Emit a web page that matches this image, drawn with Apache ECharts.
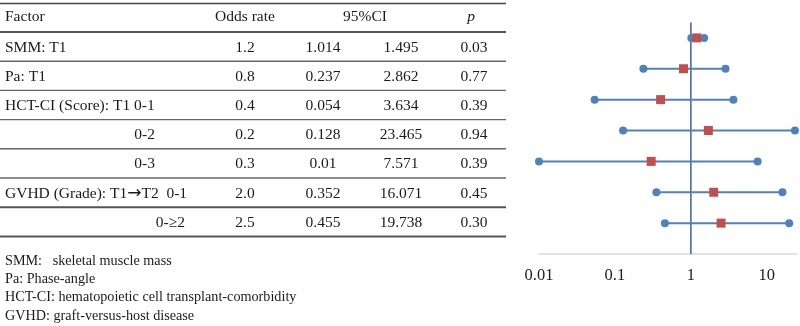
<!DOCTYPE html>
<html>
<head>
<meta charset="utf-8">
<script src="https://cdn.jsdelivr.net/npm/echarts@6/dist/echarts.min.js"></script>
<style>
  html, body { margin: 0; padding: 0; background: #fff; }
  #chart { width: 800px; height: 326px; }
</style>
</head>
<body>
<div id="chart"></div>
<script>
// Forest plot with the results table on the left
const factors = ['SMM: T1', 'Pa: T1', 'HCT-CI (Score): T1 0-1', '0-2', '0-3', 'GVHD (Grade): T1\u2192T2  0-1', '0-\u22652'];
const oddsText = ['1.2', '0.8', '0.4', '0.2', '0.3', '2.0', '2.5'];
const ciLow = [1.014, 0.237, 0.054, 0.128, 0.01, 0.352, 0.455];
const ciHigh = [1.495, 2.862, 3.634, 23.465, 7.571, 16.071, 19.738];
const pValues = ['0.03', '0.77', '0.39', '0.94', '0.39', '0.45', '0.30'];
// marker positions as drawn in the plot (0-2 marker sits near 1.7 in the figure)
const oddsPlotted = [1.2, 0.8, 0.4, 1.7, 0.3, 2.0, 2.5];
const headers = ['Factor', 'Odds rate', '95%CI', 'p'];
const footnotes = [
  'SMM:   skeletal muscle mass',
  'Pa: Phase-angle',
  'HCT-CI: hematopoietic cell transplant-comorbidity',
  'GVHD: graft-versus-host disease'
];

const FONT = '"Liberation Serif", "Times New Roman", serif';
const TABLE_FONT = '15.5px ' + FONT;
const BLUE = '#4f81bd';
const RED = '#c0504d';

const n = factors.length;
// y value per row: first row on top
const rowY = factors.map((_, i) => n - i);

// ---- table built with graphic elements ----
const graphic = [];
const rowTop = 32, rowH = 29.2;
const colOdds = 245, colLow = 323, colHigh = 401, colP = 474;
function txt(text, x, y, align, font) {
  const f = font || TABLE_FONT;
  const hasArrow = text.indexOf('\u2192') >= 0;
  graphic.push({
    type: 'text', x: x, y: y, silent: true,
    style: {
      text: hasArrow ? text.replace('\u2192', '{arr|\u2192}') : text,
      fill: '#1a1a1a', font: f, align: align, verticalAlign: 'middle',
      rich: { arr: { fontFamily: 'DejaVu Sans', fontSize: 17, fill: '#1a1a1a' } }
    }
  });
}
function hline(y, w, color) {
  graphic.push({
    type: 'line', silent: true,
    shape: { x1: 0, y1: y, x2: 506, y2: y },
    style: { stroke: color, lineWidth: w }
  });
}
hline(3.5, 1.3, '#444');
hline(32, 2, '#555');
txt(headers[0], 5, 17, 'left');
txt(headers[1], colOdds, 17, 'center');
txt(headers[2], 365, 17, 'center');
txt(headers[3], 471, 17, 'center', 'italic 15.5px ' + FONT);

factors.forEach((f, i) => {
  const cy = rowTop + rowH * i + rowH / 2 + 1;
  if (f.indexOf('0-') === 0) {
    // sub-level rows are right aligned under the parent label
    txt(f, i === n - 1 ? 185 : 155, cy, 'right');
  } else {
    txt(f, 5, cy, 'left');
  }
  txt(oddsText[i], colOdds, cy, 'center');
  txt(String(ciLow[i]), colLow, cy, 'center');
  txt(String(ciHigh[i]), colHigh, cy, 'center');
  txt(pValues[i], colP, cy, 'center');
  const ly = rowTop + rowH * (i + 1);
  const thick = i === n - 2 || i === n - 1;
  hline(ly, thick ? 2 : 1.4, thick ? '#555' : '#666');
});

footnotes.forEach((t, i) => {
  txt(t, 5, 261 + i * 18.3, 'left', '14.2px ' + FONT);
});

// ---- forest plot ----
const chart = echarts.init(document.getElementById('chart'));

const option = {
  animation: false,
  backgroundColor: '#fff',
  grid: { left: 539, right: 3, top: 7, bottom: 72 },
  xAxis: {
    type: 'log',
    logBase: 10,
    min: 0.01,
    max: 25,
    axisLine: { show: true, onZero: false, lineStyle: { color: '#d9d9d9', width: 1.5 } },
    axisTick: { show: false },
    splitLine: { show: false },
    axisLabel: {
      showMaxLabel: false,
      margin: 13,
      color: '#1a1a1a',
      fontFamily: FONT,
      fontSize: 16.5
    }
  },
  yAxis: {
    type: 'value',
    min: 0,
    max: 8,
    show: false
  },
  graphic: graphic,
  series: [
    {
      // reference line at odds = 1
      type: 'line',
      data: [[1, 0], [1, 7.5]],
      symbol: 'none',
      lineStyle: { color: '#4a6aa5', width: 1.6 },
      z: 1,
      silent: true
    },
    {
      type: 'custom',
      data: factors.map((_, i) => [ciLow[i], ciHigh[i], rowY[i]]),
      renderItem: function (params, api) {
        const a = api.coord([api.value(0), api.value(2)]);
        const b = api.coord([api.value(1), api.value(2)]);
        return {
          type: 'line',
          shape: { x1: a[0], y1: a[1], x2: b[0], y2: b[1] },
          style: { stroke: BLUE, lineWidth: 2 }
        };
      },
      z: 2
    },
    {
      type: 'scatter',
      data: factors.map((_, i) => [ciLow[i], rowY[i]])
        .concat(factors.map((_, i) => [ciHigh[i], rowY[i]])),
      symbol: 'circle',
      symbolSize: 8,
      itemStyle: { color: BLUE, opacity: 1 },
      z: 3
    },
    {
      type: 'scatter',
      data: factors.map((_, i) => [oddsPlotted[i], rowY[i]]),
      symbol: 'rect',
      symbolSize: 9,
      itemStyle: { color: RED, opacity: 1 },
      z: 4
    }
  ]
};

chart.setOption(option);
</script>
</body>
</html>
